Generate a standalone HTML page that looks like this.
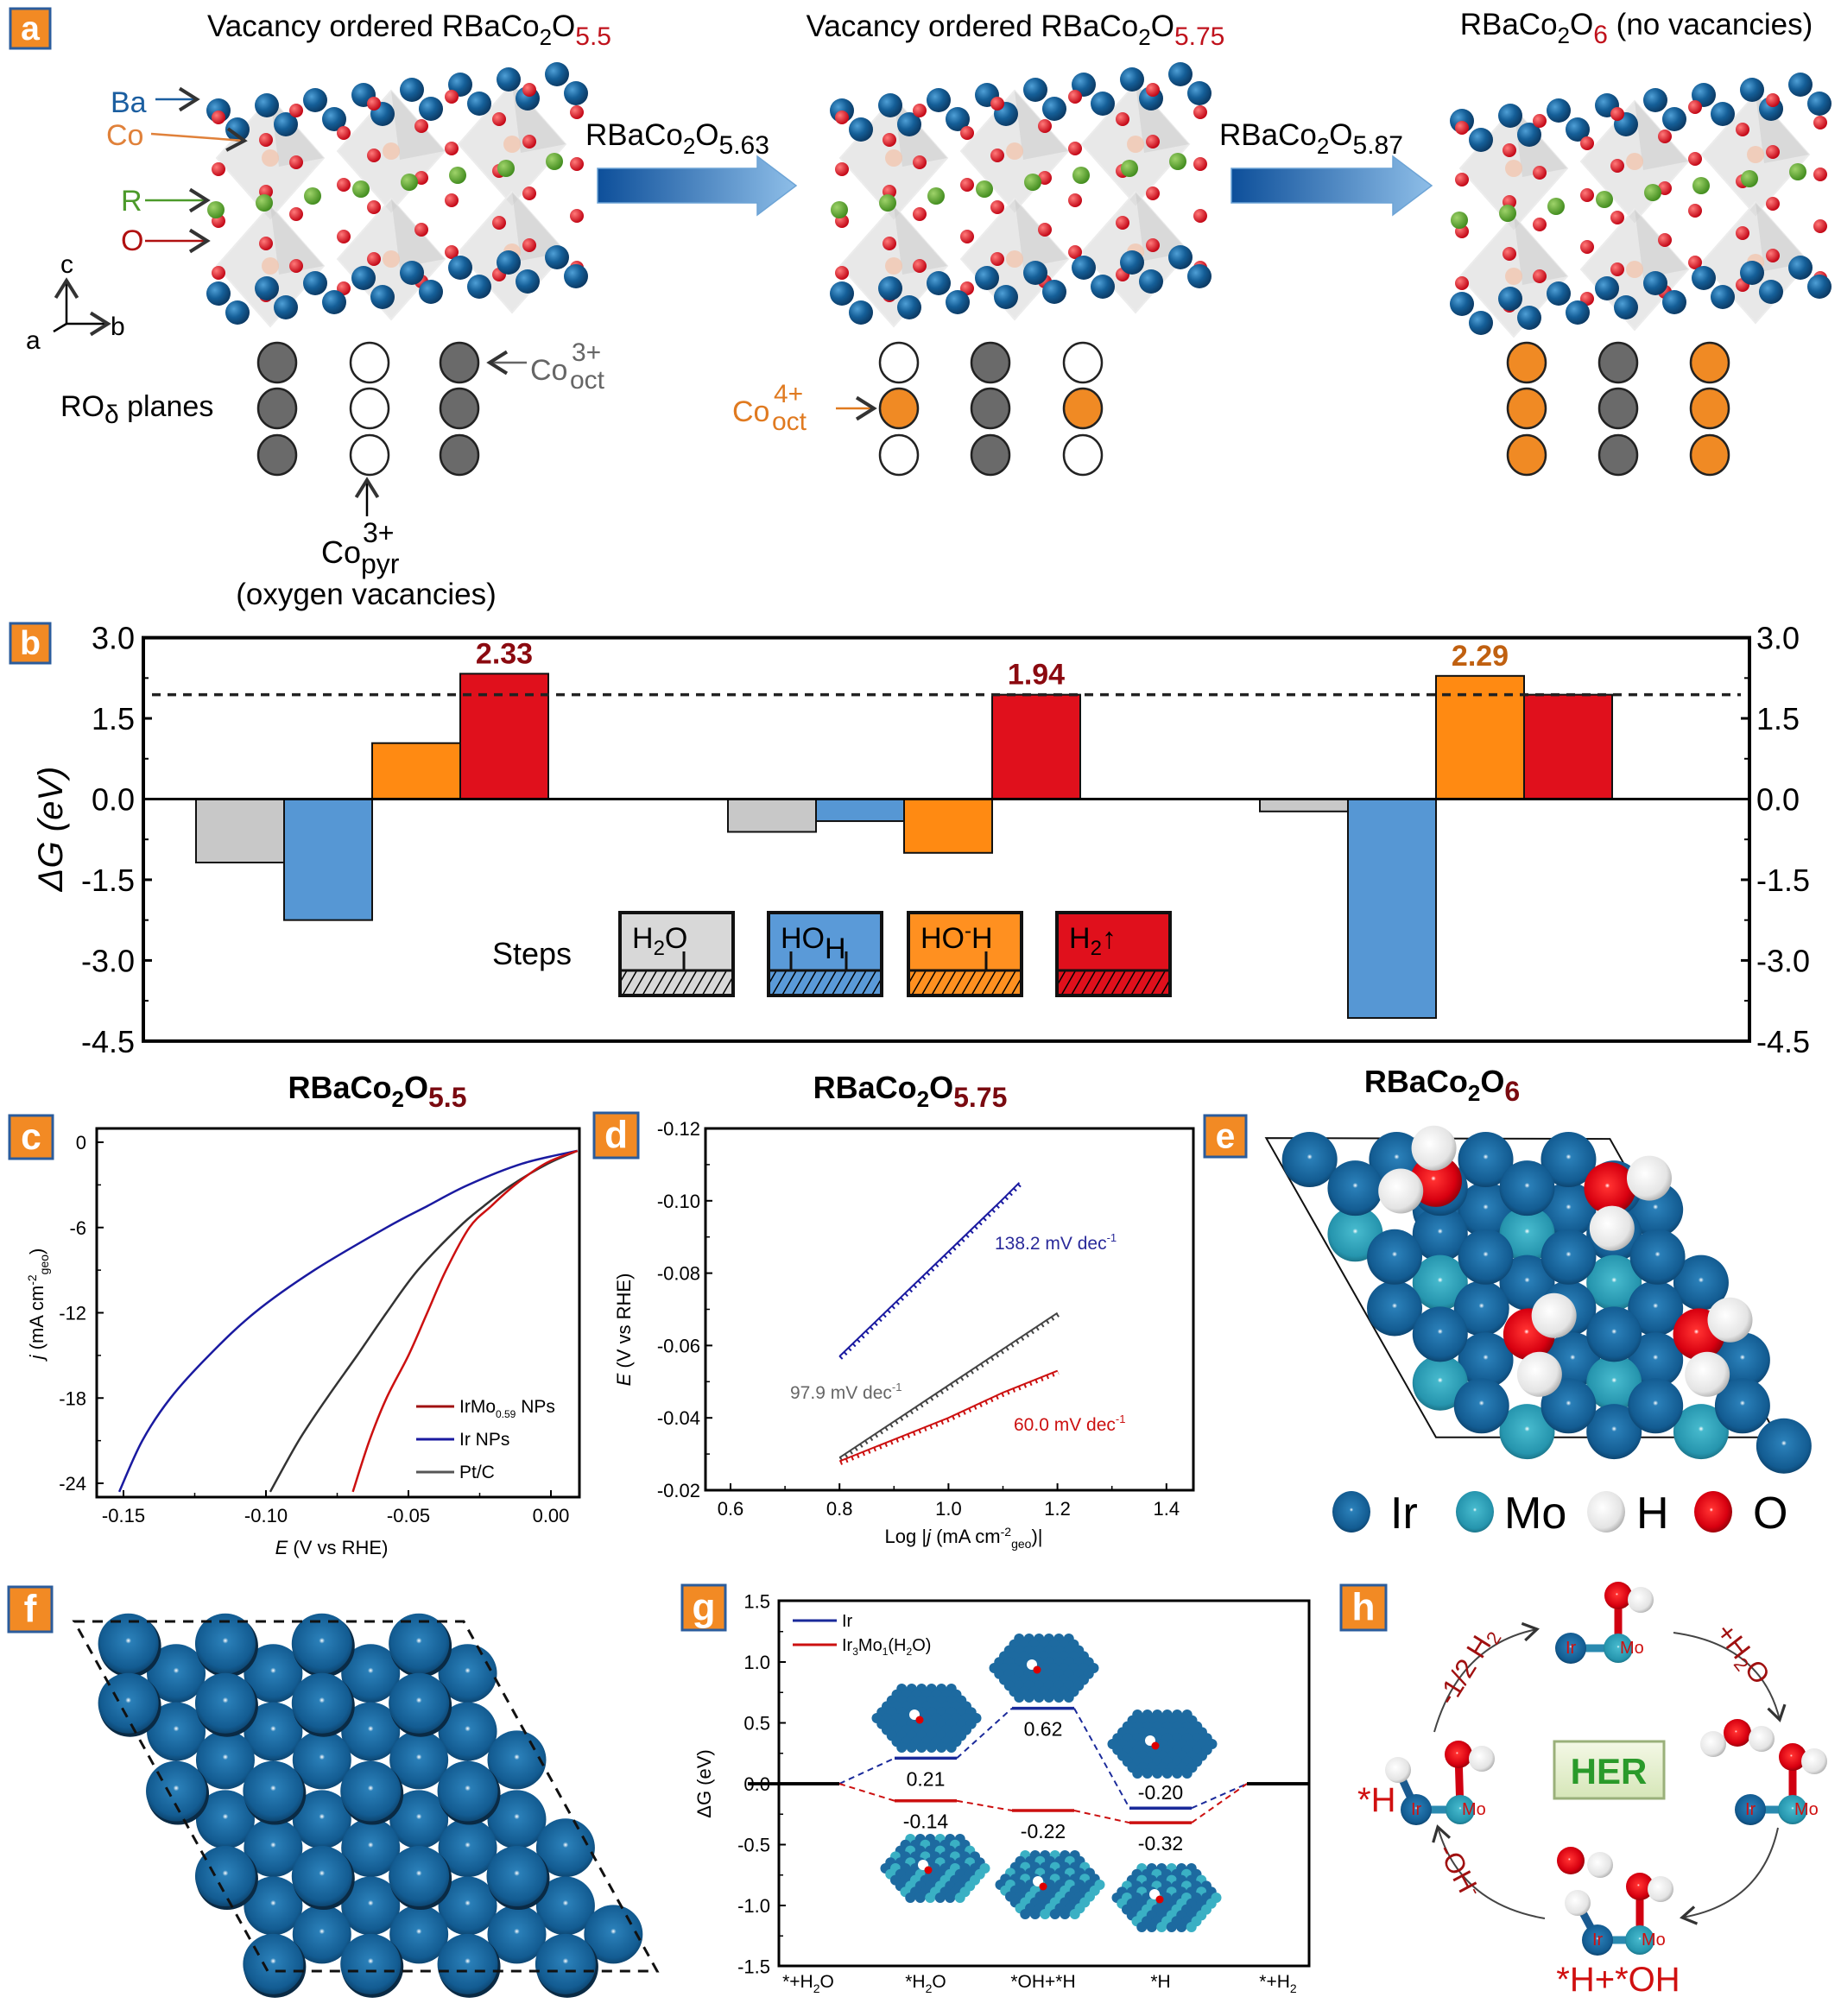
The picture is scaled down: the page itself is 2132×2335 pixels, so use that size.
<!DOCTYPE html>
<html><head><meta charset="utf-8"><style>
html,body{margin:0;padding:0;background:#fff}
svg{display:block}
text{font-family:"Liberation Sans",Arial,sans-serif}
</style></head><body>
<svg id="fig" xmlns="http://www.w3.org/2000/svg" width="2132" height="2335" viewBox="0 0 2132 2335">
<defs>
<radialGradient id="gBlue" cx="0.35" cy="0.35" r="0.7"><stop offset="0" stop-color="#4f9fd6"/><stop offset="0.5" stop-color="#155f98"/><stop offset="1" stop-color="#0b3760"/></radialGradient>
<radialGradient id="gIr" cx="0.5" cy="0.45" r="0.6"><stop offset="0" stop-color="#fff"/><stop offset="0.08" stop-color="#2a7fb8"/><stop offset="0.75" stop-color="#135c92"/><stop offset="1" stop-color="#0a3a60"/></radialGradient>
<radialGradient id="gMo" cx="0.5" cy="0.45" r="0.6"><stop offset="0" stop-color="#fff"/><stop offset="0.08" stop-color="#45b8cc"/><stop offset="0.75" stop-color="#2695ae"/><stop offset="1" stop-color="#16677a"/></radialGradient>
<radialGradient id="gRed" cx="0.45" cy="0.45" r="0.6"><stop offset="0" stop-color="#fff"/><stop offset="0.08" stop-color="#ff3030"/><stop offset="0.7" stop-color="#d80010"/><stop offset="1" stop-color="#8a0008"/></radialGradient>
<radialGradient id="gWhite" cx="0.4" cy="0.4" r="0.7"><stop offset="0" stop-color="#fff"/><stop offset="0.7" stop-color="#e4e4e4"/><stop offset="1" stop-color="#9a9a9a"/></radialGradient>
<radialGradient id="gGreen" cx="0.35" cy="0.35" r="0.7"><stop offset="0" stop-color="#9fd36a"/><stop offset="1" stop-color="#3f8a1c"/></radialGradient>
<radialGradient id="gO" cx="0.35" cy="0.35" r="0.7"><stop offset="0" stop-color="#ff7a7a"/><stop offset="1" stop-color="#c00010"/></radialGradient>
<linearGradient id="gArrow" x1="0" x2="1"><stop offset="0" stop-color="#0d4f9a"/><stop offset="1" stop-color="#8ebee8"/></linearGradient>
<linearGradient id="gHer" x1="0" y1="0" x2="0" y2="1"><stop offset="0" stop-color="#f4f8e6"/><stop offset="1" stop-color="#d6e6b8"/></linearGradient>
<pattern id="hatch" patternUnits="userSpaceOnUse" width="10" height="10" patternTransform="rotate(30)"><line x1="0" y1="0" x2="0" y2="10" stroke="#000" stroke-width="3"/></pattern>
<marker id="ah" markerWidth="14" markerHeight="14" refX="10" refY="7" orient="auto"><path d="M2,2 L10,7 L2,12" fill="none" stroke="#333" stroke-width="1.6"/></marker>
</defs>
<g id="gA"></g>
<g id="gB"></g>
<g id="gC"></g>
<g id="gD"></g>
<g id="gE"></g>
<g id="gF"></g>
<g id="gG"></g>
<g id="gH"></g>
</svg>
<script>
// ---------- Panel b data ----------
const bCategories = ['RBaCo2O5.5','RBaCo2O5.75','RBaCo2O6'];
const bStepH2O = [-1.18,-0.61,-0.23];
const bStepHOH = [-2.25,-0.41,-4.07];
const bStepHOminusH = [1.04,-1.00,2.29];
const bStepH2 = [2.33,1.94,1.94];
const bTickValues = [3.0,1.5,0.0,-1.5,-3.0,-4.5];
const bTickLabels = ['3.0','1.5','0.0','-1.5','-3.0','-4.5'];
const bThreshold = 1.94;
const bPeakLabels = ['2.33','1.94','2.29'];
const bPeakValues = [2.33,1.94,2.29];
// ---------- Panel c data ----------
const cJ = [-0.6,-1.5,-3,-4.5,-6,-9,-12,-15,-18,-21,-24.6];
const cIrMoE = [0.0093,-0.002,-0.0126,-0.021,-0.0286,-0.0368,-0.0434,-0.050,-0.0577,-0.0637,-0.0695];
const cIrE = [0.0093,-0.010,-0.029,-0.0435,-0.0577,-0.083,-0.104,-0.120,-0.1335,-0.1434,-0.1515];
const cPtE = [0.0093,-0.001,-0.0137,-0.0236,-0.0324,-0.0467,-0.0577,-0.068,-0.0786,-0.0885,-0.0985];
const cXTicks = [-0.15,-0.10,-0.05,0.00];
const cXTickLabels = ['-0.15','-0.10','-0.05','0.00'];
const cYTicks = [0,-6,-12,-18,-24];
const cYTickLabels = ['0','-6','-12','-18','-24'];
// ---------- Panel d data ----------
const dIrX = [0.80,0.90,1.00,1.10,1.13];
const dIrY = [-0.057,-0.0715,-0.086,-0.1005,-0.105];
const dPtX = [0.80,0.90,1.00,1.10,1.20];
const dPtY = [-0.029,-0.039,-0.049,-0.059,-0.069];
const dIrMoX = [0.80,0.90,1.00,1.10,1.20];
const dIrMoY = [-0.028,-0.034,-0.040,-0.047,-0.053];
const dXTicks = [0.6,0.8,1.0,1.2,1.4];
const dXTickLabels = ['0.6','0.8','1.0','1.2','1.4'];
const dYTicks = [-0.12,-0.10,-0.08,-0.06,-0.04,-0.02];
const dYTickLabels = ['-0.12','-0.10','-0.08','-0.06','-0.04','-0.02'];
// ---------- Panel g data ----------
const gCategories = ['*+H2O','*H2O','*OH+*H','*H','*+H2'];
const gIr = [0,0.21,0.62,-0.20,0];
const gIrMo = [0,-0.14,-0.22,-0.32,0];
const gYTicks = [1.5,1.0,0.5,0.0,-0.5,-1.0,-1.5];
const gYTickLabels = ['1.5','1.0','0.5','0.0','-0.5','-1.0','-1.5'];

const NS='http://www.w3.org/2000/svg';
function mk(parent, tag, attrs, txt){
  const e=document.createElementNS(NS,tag);
  for(const k in attrs) e.setAttribute(k,attrs[k]);
  if(txt!==undefined) e.textContent=txt;
  parent.appendChild(e);
  return e;
}
function rich(parent, x, y, parts, attrs){
  const t=mk(parent,'text',Object.assign({x:x,y:y},attrs||{}));
  for(const p of parts){
    const ts=mk(t,'tspan',{});
    ts.textContent=p[0];
    if(p[1]) ts.setAttribute('dy',p[1]);
    if(p[2]) ts.setAttribute('font-size',p[2]);
    if(p[3]) ts.setAttribute('fill',p[3]);
    if(p[4]!==undefined) ts.setAttribute('x',p[4]);
  }
  return t;
}
function labelBox(parent,x,y,w,h,letter,name){
  const g=mk(parent,'g',{});
  
  
  mk(g,'rect',{x:x,y:y,width:w,height:h,fill:'#f28a24',stroke:'#2b5c9c','stroke-width':3});
  mk(g,'text',{x:x+w/2,y:y+h*0.78,'text-anchor':'middle','font-size':h*0.85,'font-weight':'bold',fill:'#fff'},letter);
}
function ball(parent,cx,cy,r,grad){
  return mk(parent,'circle',{cx:cx,cy:cy,r:r,fill:'url(#'+grad+')'});
}
function smoothPath(pts){
  let d='M'+pts[0][0].toFixed(1)+','+pts[0][1].toFixed(1);
  for(let i=0;i<pts.length-1;i++){
    const p0=pts[Math.max(0,i-1)],p1=pts[i],p2=pts[i+1],p3=pts[Math.min(pts.length-1,i+2)];
    const c1=[p1[0]+(p2[0]-p0[0])/6,p1[1]+(p2[1]-p0[1])/6];
    const c2=[p2[0]-(p3[0]-p1[0])/6,p2[1]-(p3[1]-p1[1])/6];
    d+=' C'+c1[0].toFixed(1)+','+c1[1].toFixed(1)+' '+c2[0].toFixed(1)+','+c2[1].toFixed(1)+' '+p2[0].toFixed(1)+','+p2[1].toFixed(1);
  }
  return d;
}

// ================= PANEL A =================
const A=document.getElementById('gA');
labelBox(A,12,10,46,46,'a','panel-a-label');
(function(){
  let t=rich(A,474,42,[['Vacancy ordered RBaCo'],['2','10',26],['O','-10'],['5.5','10',30,'#c0121c']],{'font-size':35,'text-anchor':'middle'});
  
  
  t=rich(A,1176,42,[['Vacancy ordered RBaCo'],['2','10',26],['O','-10'],['5.75','10',30,'#c0121c']],{'font-size':35,'text-anchor':'middle'});
  
  
  t=rich(A,1895,40,[['RBaCo'],['2','10',26],['O','-10'],['6','10',30,'#c0121c'],[' (no vacancies)','-10']],{'font-size':35,'text-anchor':'middle'});
  
  
})();
function crystal(x0,y0,name){
  const g=mk(A,'g',{});
  
  
  for(let i=0;i<3;i++){
    for(let j=0;j<2;j++){
      const cx=x0+75+i*140, cy=y0+115+j*125-i*8;
      mk(g,'polygon',{points:`${cx},${cy-70} ${cx+62},${cy} ${cx},${cy+70} ${cx-62},${cy}`,fill:'#d6d6d6','fill-opacity':0.55,stroke:'#ececec','stroke-width':2});
      mk(g,'polygon',{points:`${cx},${cy-70} ${cx+62},${cy} ${cx+10},${cy+10}`,fill:'#bdbdbd','fill-opacity':0.35});
      mk(g,'circle',{cx:cx,cy:cy,r:10,fill:'#f4c2a8','fill-opacity':0.7});
    }
  }
  for(let r=0;r<2;r++) for(let k=0;k<8;k++){
    ball(g,x0+15+k*56+r*22,y0+60-k*6+r*22,14,'gBlue');
  }
  for(let row=0;row<8;row++) for(let k=0;k<10;k++){
    if((row+k)%2===0) ball(g,x0+15+k*45+(row%2)*10,y0+68+row*30-k*4,8,'gO');
  }
  for(let k=0;k<8;k++) ball(g,x0+12+k*56,y0+175-k*8,10,'gGreen');
  for(let r=0;r<2;r++) for(let k=0;k<8;k++){
    ball(g,x0+15+k*56+r*22,y0+272-k*6+r*22,14,'gBlue');
  }
}
crystal(238,68,'crystal-o55');
crystal(960,68,'crystal-o575');
crystal(1678,80,'crystal-o6');
function bigArrow(x1,x2,yc,name,lab){
  const g=mk(A,'g',{});
  
  
  mk(g,'polygon',{points:`${x1},${yc-20} ${x2-45},${yc-20} ${x2-45},${yc-34} ${x2},${yc} ${x2-45},${yc+34} ${x2-45},${yc+20} ${x1},${yc+20}`,fill:'url(#gArrow)',stroke:'#6da4d6','stroke-width':1.5});
  rich(g,x1-14,168,[['RBaCo'],['2','10',26],['O','-10'],[lab,'10',30]],{'font-size':35});
}
bigArrow(692,922,215,'arrow-o563','5.63');
bigArrow(1426,1658,215,'arrow-o587','5.87');
[['Ba',128,130,'#1b5ea0',115],['Co',123,168,'#e0813a',155],['R',140,244,'#4c9a2a',232],['O',140,290,'#b01010',279]].forEach(d=>{
  const t=mk(A,'text',{x:d[1],y:d[2],'font-size':34,fill:d[3]},d[0]);
  
  
  mk(A,'line',{x1:d[1]+(d[0].length>1?52:28),y1:d[4],x2:d[1]+(d[0]==='Co'?160:100),y2:d[4]+(d[0]==='Co'?8:0),stroke:d[3],'stroke-width':2.5,'marker-end':'url(#ah)'});
});
mk(A,'line',{x1:77,y1:375,x2:77,y2:325,stroke:'#000','stroke-width':2.5,'marker-end':'url(#ah)'});
mk(A,'line',{x1:77,y1:375,x2:125,y2:375,stroke:'#000','stroke-width':2.5,'marker-end':'url(#ah)'});
mk(A,'line',{x1:77,y1:375,x2:62,y2:384,stroke:'#000','stroke-width':2.5});
mk(A,'text',{x:70,y:316,'font-size':30},'c');
mk(A,'text',{x:128,y:388,'font-size':30},'b');
mk(A,'text',{x:30,y:404,'font-size':30},'a');
const aCols=[[321,428,532],[1041,1147,1254],[1768,1874,1980]];
const aRows=[420,473,527];
const aFill=[
 [['#6a6a6a','#6a6a6a','#6a6a6a'],['#fff','#fff','#fff'],['#6a6a6a','#6a6a6a','#6a6a6a']],
 [['#fff','#f08a24','#fff'],['#6a6a6a','#6a6a6a','#6a6a6a'],['#fff','#f08a24','#fff']],
 [['#f08a24','#f08a24','#f08a24'],['#6a6a6a','#6a6a6a','#6a6a6a'],['#f08a24','#f08a24','#f08a24']]];
aCols.forEach((cols,s)=>cols.forEach((cx,c)=>aRows.forEach((cy,r)=>{
  const e=mk(A,'ellipse',{cx:cx,cy:cy,rx:22,ry:23,fill:aFill[s][c][r],stroke:'#222','stroke-width':2.5});
  
  
})));
rich(A,70,482,[['RO'],['δ','8',30],[' planes','-8']],{'font-size':34});
mk(A,'line',{x1:610,y1:420,x2:567,y2:420,stroke:'#666','stroke-width':2.5,'marker-end':'url(#ah)'});
rich(A,614,440,[['Co'],['3+','-22',30,null,662],['oct','32',30,null,660]],{'font-size':34,fill:'#666'});
rich(A,848,488,[['Co'],['4+','-22',30,null,896],['oct','32',30,null,894]],{'font-size':34,fill:'#e07a20'});
mk(A,'line',{x1:968,y1:473,x2:1012,y2:473,stroke:'#e07a20','stroke-width':2.5,'marker-end':'url(#ah)'});
mk(A,'line',{x1:425,y1:598,x2:425,y2:556,stroke:'#000','stroke-width':2.5,'marker-end':'url(#ah)'});
rich(A,372,652,[['Co'],['3+','-24',32,null,420],['pyr','36',32,null,418]],{'font-size':36});
mk(A,'text',{x:424,y:700,'font-size':35,'text-anchor':'middle'},'(oxygen vacancies)');

// ================= PANEL B =================
const B=document.getElementById('gB');
labelBox(B,12,722,46,46,'b','panel-b-label');
const bX0=166,bX1=2026;
const yb=v=>925.5-v*62.3;
const bGroupCenter=i=>431+i*616;
const bBarW=102;
mk(B,'rect',{x:bX0,y:yb(3),width:bX1-bX0,height:yb(-4.5)-yb(3),fill:'none',stroke:'#000','stroke-width':4});
bTickValues.forEach((v,i)=>{
  const t1=mk(B,'text',{x:156,y:yb(v)+13,'font-size':36,'text-anchor':'end'},bTickLabels[i]);
  
  
  const t2=mk(B,'text',{x:2034,y:yb(v)+13,'font-size':36},bTickLabels[i]);
  
  
  mk(B,'line',{x1:bX0,x2:bX0+10,y1:yb(v),y2:yb(v),stroke:'#000','stroke-width':3});
  mk(B,'line',{x1:bX1-10,x2:bX1,y1:yb(v),y2:yb(v),stroke:'#000','stroke-width':3});
  if(v>-4.5){
    mk(B,'line',{x1:bX0,x2:bX0+6,y1:yb(v-0.75),y2:yb(v-0.75),stroke:'#000','stroke-width':2});
    mk(B,'line',{x1:bX1-6,x2:bX1,y1:yb(v-0.75),y2:yb(v-0.75),stroke:'#000','stroke-width':2});
  }
});
const ylab=rich(B,0,0,[['Δ'],['G'],[' (eV)']],{'font-size':40,'font-style':'italic',transform:'translate(72,960) rotate(-90)','text-anchor':'middle'});


const bSeries=[[bStepH2O,'#c8c8c8','h2o'],[bStepHOH,'#5697d4','hoh'],[bStepHOminusH,'#ff8a12','hominus-h'],[bStepH2,'#e0101c','h2']];
bCategories.forEach((cat,i)=>{
  bSeries.forEach((s,k)=>{
    const v=s[0][i];
    const x=bGroupCenter(i)-2*bBarW+k*bBarW;
    const r=mk(B,'rect',{x:x,y:Math.min(yb(v),yb(0)),width:bBarW,height:Math.abs(yb(v)-yb(0)),fill:s[1],stroke:'#111','stroke-width':2});
    
    
  });
});
mk(B,'line',{x1:bX0,x2:bX1,y1:yb(0),y2:yb(0),stroke:'#000','stroke-width':3});
const dl=mk(B,'line',{x1:bX0+10,x2:bX1-10,y1:yb(bThreshold),y2:yb(bThreshold),stroke:'#222','stroke-width':3.5,'stroke-dasharray':'10 8'});


const bPeakBar=[3,3,2];
const bPeakColor=['#8b0a10','#8b0a10','#c06010'];
bPeakLabels.forEach((l,i)=>{
  const x=bGroupCenter(i)-2*bBarW+bPeakBar[i]*bBarW+bBarW/2;
  const t=mk(B,'text',{x:x,y:yb(bPeakValues[i])-12,'font-size':34,'font-weight':'bold','text-anchor':'middle',fill:bPeakColor[i]},l);
  
  
});
const bl=mk(B,'g',{});


mk(bl,'text',{x:570,y:1117,'font-size':36},'Steps');
const legX=[718,890,1052,1224];
const legFill=['#d8d8d8','#5a9ad8','#ff9020','#e0101c'];
const legTxt=[['H','2','O'],['HO','','H'],['HO','-','H'],['H','2','↑']];
legX.forEach((x,i)=>{
  mk(bl,'rect',{x:x,y:1057,width:131,height:96,fill:legFill[i],stroke:'#111','stroke-width':4});
  mk(bl,'rect',{x:x+2,y:1125,width:127,height:26,fill:'url(#hatch)'});
  mk(bl,'line',{x1:x,x2:x+131,y1:1124,y2:1124,stroke:'#111','stroke-width':3});
  rich(bl,x+14,1098,[[legTxt[i][0]],[legTxt[i][1],legTxt[i][1]==='2'?'8':'-12',24],[legTxt[i][2],legTxt[i][1]==='2'?'-8':'12']],{'font-size':34});
  if(i<3) mk(bl,'line',{x1:x+(i===0?74:i===1?26:90),x2:x+(i===0?74:i===1?26:90),y1:1102,y2:1124,stroke:'#111','stroke-width':3});
  if(i===1) mk(bl,'line',{x1:x+90,x2:x+90,y1:1102,y2:1124,stroke:'#111','stroke-width':3});
});

// ================= PANEL C =================
const C=document.getElementById('gC');
labelBox(C,11,1292,50,50,'c','panel-c-label');
rich(C,437,1272,[['RBaCo'],['2','10',26],['O','-10'],['5.5','10',32,'#7a0a10']],{'font-size':36,'font-weight':'bold','text-anchor':'middle'});
const cL=112,cR=671,cT=1307,cB=1734;
const xc=E=>638+E*3300;
const yc=j=>1323-j*(395/24);
mk(C,'rect',{x:cL,y:cT,width:cR-cL,height:cB-cT,fill:'none',stroke:'#000','stroke-width':3});
cXTicks.forEach((v,i)=>{
  mk(C,'line',{x1:xc(v),x2:xc(v),y1:cB,y2:cB-8,stroke:'#000','stroke-width':2});
  if(v<0) mk(C,'line',{x1:xc(v+0.025),x2:xc(v+0.025),y1:cB,y2:cB-5,stroke:'#000','stroke-width':1.5});
  const t=mk(C,'text',{x:xc(v),y:1763,'font-size':22,'text-anchor':'middle'},cXTickLabels[i]);
  
  
});
cYTicks.forEach((v,i)=>{
  mk(C,'line',{x1:cL,x2:cL+8,y1:yc(v),y2:yc(v),stroke:'#000','stroke-width':2});
  if(v>-24) mk(C,'line',{x1:cL,x2:cL+5,y1:yc(v-3),y2:yc(v-3),stroke:'#000','stroke-width':1.5});
  const t=mk(C,'text',{x:cL-12,y:yc(v)+8,'font-size':22,'text-anchor':'end'},cYTickLabels[i]);
  
  
});
rich(C,384,1800,[['E'],[' (V vs RHE)']],{'font-size':22,'text-anchor':'middle'}).firstChild.setAttribute('font-style','italic');
rich(C,0,0,[['j'],[' (mA cm'],['-2','-8',14],['geo','14',14],[')','-6']],{'font-size':22,'text-anchor':'middle',transform:'translate(50,1510) rotate(-90)'}).firstChild.setAttribute('font-style','italic');
function cCurve(E,J,color,name){
  const pts=E.map((e,i)=>[xc(e),yc(J[i])]);
  const p=mk(C,'path',{d:smoothPath(pts),fill:'none',stroke:color,'stroke-width':2.5,'stroke-linejoin':'round'});
  
  
}
cCurve(cPtE,cJ,'#333','curve-pt-c');
cCurve(cIrE,cJ,'#1a1aa0','curve-ir-nps');
cCurve(cIrMoE,cJ,'#cc1010','curve-irmo-nps');
const cLeg=mk(C,'g',{});


[['#a01010',1629,[['IrMo'],['0.59','6',12],[' NPs','-6']]],['#1a1aa0',1667,[['Ir NPs']]],['#555',1705,[['Pt/C']]]].forEach(d=>{
  mk(cLeg,'line',{x1:482,x2:526,y1:d[1],y2:d[1],stroke:d[0],'stroke-width':3});
  rich(cLeg,532,d[1]+7,d[2],{'font-size':21});
});

// ================= PANEL D =================
const D=document.getElementById('gD');
labelBox(D,688,1289,51,52,'d','panel-d-label');
rich(D,1054,1272,[['RBaCo'],['2','10',26],['O','-10'],['5.75','10',32,'#7a0a10']],{'font-size':36,'font-weight':'bold','text-anchor':'middle'});
const dL=817,dR=1382,dT=1307,dB=1726;
const xd=v=>846+(v-0.6)*631;
const yd=v=>1307+(v+0.12)*4190;
mk(D,'rect',{x:dL,y:dT,width:dR-dL,height:dB-dT,fill:'none',stroke:'#000','stroke-width':3});
dXTicks.forEach((v,i)=>{
  mk(D,'line',{x1:xd(v),x2:xd(v),y1:dB,y2:dB-8,stroke:'#000','stroke-width':2});
  if(v<1.35) mk(D,'line',{x1:xd(v+0.1),x2:xd(v+0.1),y1:dB,y2:dB-5,stroke:'#000','stroke-width':1.5});
  const t=mk(D,'text',{x:xd(v),y:1755,'font-size':22,'text-anchor':'middle'},dXTickLabels[i]);
  
  
});
dYTicks.forEach((v,i)=>{
  mk(D,'line',{x1:dL,x2:dL+8,y1:yd(v),y2:yd(v),stroke:'#000','stroke-width':2});
  if(v<-0.025) mk(D,'line',{x1:dL,x2:dL+5,y1:yd(v+0.01),y2:yd(v+0.01),stroke:'#000','stroke-width':1.5});
  const t=mk(D,'text',{x:dL-6,y:yd(v)+8,'font-size':22,'text-anchor':'end'},dYTickLabels[i]);
  
  
});
rich(D,1116,1787,[['Log |'],['j'],[' (mA cm'],['-2','-8',14],['geo','14',14],[')|','-6']],{'font-size':22,'text-anchor':'middle'}).childNodes[1].setAttribute('font-style','italic');
rich(D,0,0,[['E'],[' (V vs RHE)']],{'font-size':22,'text-anchor':'middle',transform:'translate(730,1540) rotate(-90)'}).firstChild.setAttribute('font-style','italic');
function dLine(X,Y,color,name){
  const pts=X.map((x,i)=>xd(x).toFixed(1)+','+yd(Y[i]).toFixed(1)).join(' ');
  const p=mk(D,'polyline',{points:pts,fill:'none',stroke:color,'stroke-width':2});
  
  
  const q=mk(D,'polyline',{points:pts,fill:'none',stroke:color,'stroke-width':5,'stroke-dasharray':'2 5',transform:'translate(1,2)'});
  
  
}
dLine(dIrX,dIrY,'#1a1aa0','tafel-ir');
dLine(dPtX,dPtY,'#444','tafel-pt');
dLine(dIrMoX,dIrMoY,'#cc1010','tafel-irmo');
rich(D,1152,1447,[['138.2 mV dec'],['-1','-9',13]],{'font-size':21,fill:'#2a2a9a'});
rich(D,915,1620,[['97.9 mV dec'],['-1','-9',13]],{'font-size':21,fill:'#666'});
rich(D,1174,1657,[['60.0 mV dec'],['-1','-9',13]],{'font-size':21,fill:'#cc1010'});

// ================= PANEL E =================
const E_=document.getElementById('gE');
labelBox(E_,1395,1292,48,48,'e','panel-e-label');
rich(E_,1670,1265,[['RBaCo'],['2','10',26],['O','-10'],['6','10',32,'#7a0a10']],{'font-size':36,'font-weight':'bold','text-anchor':'middle'});
const eX=x=>x/2.085+1380, eY=y=>y/3.015+1280;
const eBack=[[365,[[600,0],[710,0],[910,0],[1120,0]]],[450,[[395,1],[600,0],[810,1],[1020,0]]],[620,[[600,1],[810,0],[1020,1],[1230,0]]],[710,[[490,0],[700,0],[910,0],[1120,0]]],[890,[[710,0],[920,0],[1120,0],[1330,0]]],[970,[[600,1],[1020,1]]],[1140,[[810,1],[1020,0],[1230,1]]]];
const eFront=[[190,[285,495,710,910]],[290,[395,600,810,1020]],[530,[490,710,910,1125]],[800,[600,1020]],[1050,[700,910,1120,1330]],[1190,[1430]]];
mk(E_,'polygon',{points:`${eX(180)},${eY(115)} ${eX(1010)},${eY(118)} ${eX(1415)},${eY(1160)} ${eX(590)},${eY(1160)}`,fill:'none',stroke:'#111','stroke-width':2});
eBack.forEach(r=>r[1].forEach(p=>ball(E_,eX(p[0]),eY(r[0]),32,p[1]?'gMo':'gIr')));
eFront.forEach(r=>r[1].forEach(x=>ball(E_,eX(x),eY(r[0]),32,'gIr')));
[[590,265,[[585,150],[505,300]]],[1010,290,[[1105,255],[1015,430]]],[815,800,[[875,735],[840,940]]],[1225,800,[[1300,750],[1245,940]]]].forEach(w=>{
  const g=mk(E_,'g',{});
  
  
  ball(g,eX(w[0]),eY(w[1]),30,'gRed');
  w[2].forEach(h=>ball(g,eX(h[0]),eY(h[1]),26,'gWhite'));
});
const eLeg=mk(E_,'g',{});


[[1565,'gIr','Ir',1610],[1708,'gMo','Mo',1742],[1860,'gWhite','H',1895],[1984,'gRed','O',2030]].forEach(d=>{
  mk(eLeg,'ellipse',{cx:d[0],cy:1751,rx:22,ry:24,fill:'url(#'+d[1]+')'});
  mk(eLeg,'text',{x:d[3],y:1770,'font-size':52},d[2]);
});

// ================= PANEL F =================
const F=document.getElementById('gF');
labelBox(F,10,1838,50,52,'f','panel-f-label');
const fX=x=>x/1.985, fY=y=>1820+y/3.045;
const fRows=[[255,[295,518,740,963],1],[360,[405,628,852,1075],0],[465,[295,518,740,963],1],[565,[405,628,852,1075],0],[665,[518,740,963,1188],0],[775,[405,628,852,1075],1],[875,[518,740,963,1188],0],[975,[628,852,1075,1300],0],[1075,[518,740,963,1188],1],[1180,[628,852,1075,1300],0],[1280,[740,963,1188,1410],0],[1385,[628,852,1075,1300],1]];
fRows.filter(r=>!r[2]).forEach(r=>r[1].forEach(x=>ball(F,fX(x),fY(r[0]),34,'gIr')));
fRows.filter(r=>r[2]).forEach(r=>r[1].forEach(x=>{
  mk(F,'circle',{cx:fX(x)+2,cy:fY(r[0])+3,r:36,fill:'#0a2a44'});
  ball(F,fX(x),fY(r[0]),35,'gIr');
}));
const fp=mk(F,'polygon',{points:'86,1878 537,1878 761,2283 310,2283',fill:'none',stroke:'#111','stroke-width':3,'stroke-dasharray':'12 9'});



// ================= PANEL G =================
const G=document.getElementById('gG');
labelBox(G,790,1836,50,52,'g','panel-g-label');
const gL=902,gR=1516,gT=1854,gB=2277;
const yg=v=>2066-v*141;
const xg=i=>936+i*136;
const gHalf=36;
mk(G,'rect',{x:gL,y:gT,width:gR-gL,height:gB-gT,fill:'none',stroke:'#000','stroke-width':3});
gYTicks.forEach((v,i)=>{
  mk(G,'line',{x1:gL,x2:gL+8,y1:yg(v),y2:yg(v),stroke:'#000','stroke-width':2});
  if(v>-1.5) mk(G,'line',{x1:gL,x2:gL+5,y1:yg(v-0.25),y2:yg(v-0.25),stroke:'#000','stroke-width':1.5});
  const t=mk(G,'text',{x:gL-10,y:yg(v)+8,'font-size':22,'text-anchor':'end'},gYTickLabels[i]);
  
  
});
mk(G,'text',{x:0,y:0,'font-size':22,'text-anchor':'middle',transform:'translate(823,2066) rotate(-90)'},'ΔG (eV)');
const gCatParts=[[['*+H'],['2','6',14],['O','-6']],[['*H'],['2','6',14],['O','-6']],[['*OH+*H']],[['*H']],[['*+H'],['2','6',14]]];
gCategories.forEach((c,i)=>{
  const t=rich(G,xg(i),2302,gCatParts[i],{'font-size':21,'text-anchor':'middle'});
  
  
});
function slab(cx,cy,mo){
  const g=mk(G,'g',{});
  
  
  for(let r=-5;r<=5;r++){
    const n=11-Math.abs(r);
    for(let k=0;k<n;k++){
      const x=cx+(k-(n-1)/2)*11.5, y=cy+r*6.8;
      mk(g,'circle',{cx:x,cy:y,r:6,fill:(mo&&((k+r+20)%3===0))?'#3ab0c4':'#1d6aa0'});
    }
  }
  mk(g,'circle',{cx:cx-14,cy:cy-4,r:6,fill:'#fff'});
  mk(g,'circle',{cx:cx-8,cy:cy+2,r:4.5,fill:'#d00'});
}
slab(1073,1990,false);slab(1209,1932,false);slab(1346,2020,false);
slab(1083,2164,true);slab(1216,2183,true);slab(1351,2198,true);
function gSeries(vals,color,name){
  const g=mk(G,'g',{});
  
  
  vals.forEach((v,i)=>{
    const lv=mk(g,'line',{x1:xg(i)-gHalf-(i===0?34:0),x2:xg(i)+gHalf,y1:yg(v),y2:yg(v),stroke:(i===0||i===4)?'#000':color,'stroke-width':3.5});
    
    if(i<vals.length-1){
      mk(g,'line',{x1:xg(i)+gHalf,x2:xg(i+1)-gHalf,y1:yg(v),y2:yg(vals[i+1]),stroke:color,'stroke-width':2,'stroke-dasharray':'7 5'});
    }
  });
}
mk(G,'line',{x1:gL,x2:xg(0)+gHalf,y1:yg(0),y2:yg(0),stroke:'#000','stroke-width':3.5});
mk(G,'line',{x1:xg(4)-gHalf,x2:gR,y1:yg(0),y2:yg(0),stroke:'#000','stroke-width':3.5});
gSeries(gIr,'#1a2a9a','series-ir');
gSeries(gIrMo,'#cc1010','series-ir3mo1');
gIr.forEach((v,i)=>{
  if(i===0||i===4) return;
  const above=v<0;
  const t=mk(G,'text',{x:xg(i),y:above?yg(v)-10:yg(v)+32,'font-size':23,'text-anchor':'middle'},v.toFixed(2));
  
  
});
gIrMo.forEach((v,i)=>{
  if(i===0||i===4) return;
  const t=mk(G,'text',{x:xg(i),y:yg(v)+32,'font-size':23,'text-anchor':'middle'},v.toFixed(2));
  
  
});
const gLeg=mk(G,'g',{});


mk(gLeg,'line',{x1:918,x2:969,y1:1877,y2:1877,stroke:'#1a2a9a','stroke-width':3});
mk(gLeg,'text',{x:975,y:1884,'font-size':20},'Ir');
mk(gLeg,'line',{x1:918,x2:969,y1:1905,y2:1905,stroke:'#cc1010','stroke-width':3});
rich(gLeg,975,1912,[['Ir'],['3','5',12],['Mo','-5'],['1','5',12],['(H','-5'],['2','5',12],['O)','-5']],{'font-size':20});

// ================= PANEL H =================
const H=document.getElementById('gH');
labelBox(H,1553,1836,52,52,'h','panel-h-label');
function mol(ir,mo,o,hs,name){
  const g=mk(H,'g',{});
  
  
  mk(g,'line',{x1:ir[0],y1:ir[1],x2:mo[0],y2:mo[1],stroke:'#2a8ab0','stroke-width':9});
  mk(g,'line',{x1:mo[0],y1:mo[1],x2:o[0],y2:o[1],stroke:'#d00010','stroke-width':9});
  hs.forEach(h=>{ if(h[2]) mk(g,'line',{x1:ir[0],y1:ir[1],x2:h[0],y2:h[1],stroke:'#1a5a90','stroke-width':9}); });
  ball(g,ir[0],ir[1],18,'gIr');
  ball(g,mo[0],mo[1],17,'gMo');
  ball(g,o[0],o[1],16,'gRed');
  hs.forEach(h=>ball(g,h[0],h[1],15,'gWhite'));
  mk(g,'text',{x:ir[0]-6,y:ir[1]+6,'font-size':20,fill:'#d01010'},'Ir');
  mk(g,'text',{x:mo[0]+2,y:mo[1]+6,'font-size':20,fill:'#d01010'},'Mo');
}
mol([1819,1909],[1874,1909],[1874,1848],[[1900,1853]],'mol-top');
mol([2027,2096],[2076,2096],[2076,2035],[[2101,2040]],'mol-right');
mol([1850,2247],[1899,2247],[1899,2185],[[1923,2188],[1827,2204,1]],'mol-bottom');
mol([1640,2096],[1691,2096],[1689,2032],[[1716,2037],[1619,2050,1]],'mol-left');
ball(H,2012,2007,16,'gRed');ball(H,1984,2020,15,'gWhite');ball(H,2040,2014,15,'gWhite');
ball(H,1819,2155,16,'gRed');ball(H,1853,2160,15,'gWhite');
[['M1661,2006 Q1690,1905 1780,1887'],['M1938,1891 Q2040,1905 2061,1992'],['M2059,2117 Q2040,2205 1948,2221'],['M1789,2222 Q1690,2205 1665,2116']].forEach(d=>{
  const p=mk(H,'path',{d:d[0],fill:'none',stroke:'#444','stroke-width':2,'marker-end':'url(#ah)'});
  
  
});
const her=mk(H,'g',{});


mk(her,'rect',{x:1800,y:2017,width:127,height:66,fill:'url(#gHer)',stroke:'#9ab07a','stroke-width':3});
mk(her,'text',{x:1863,y:2066,'font-size':42,'font-weight':'bold','text-anchor':'middle',fill:'#2a9a2a'},'HER');
mk(H,'text',{x:1572,y:2098,'font-size':40,fill:'#d01010'},'*H');
mk(H,'text',{x:1874,y:2306,'font-size':40,fill:'#d01010','text-anchor':'middle'},'*H+*OH');
rich(H,0,0,[['-1/2 H'],['2','6',22]],{'font-size':32,fill:'#a01010','text-anchor':'middle',transform:'translate(1708,1935) rotate(-58)'});
rich(H,0,0,[['+H'],['2','6',22],['O','-6']],{'font-size':32,fill:'#a01010','text-anchor':'middle',transform:'translate(2010,1922) rotate(52)'});
rich(H,0,0,[['-OH'],['-','-10',22]],{'font-size':32,fill:'#a01010','text-anchor':'middle',transform:'translate(1680,2172) rotate(62)'});
</script>
</body></html>
